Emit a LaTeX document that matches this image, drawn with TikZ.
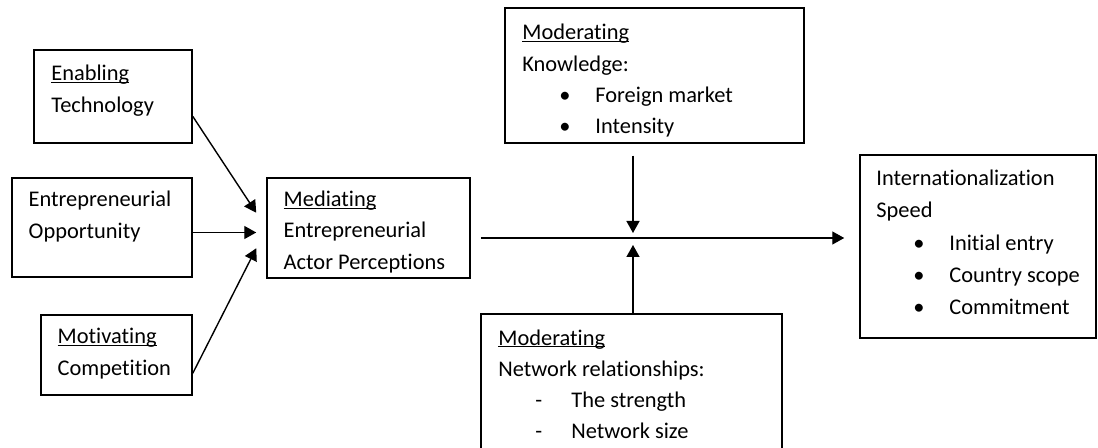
\documentclass[tikz,border=0pt]{standalone}
\usepackage{fontspec}
\setmainfont{Carlito}[Ligatures=NoCommon]
\usepackage{tikz}
\usetikzlibrary{arrows.meta,calc,fit}
\newcommand{\ulword}[1]{\setbox0\hbox{#1}\rlap{\rule[-1pt]{\wd0}{0.5pt}}#1}
\newcommand{\itm}[2]{\hspace*{18.5pt}\makebox[18pt][l]{#1}#2}

\begin{document}
\begin{tikzpicture}[
	x=0.5pt, y=-0.5pt,
	every node/.style={font={\fontsize{11.2}{16}\selectfont}},
	box/.style={draw, line width=0.75pt, inner sep=0pt},
	txt/.style={anchor=north west, align=left, inner sep=0pt},
	arrow/.style={-{Triangle[length=6pt,width=6.5pt]}, line width=0.7pt}
	]
	\useasboundingbox (0,0) rectangle (1098,448);
	
	\node[box, fit={(34,50) (192,143)}] (Enabling) {};
	\node[box, fit={(12,178) (192,277)}] (Opportunity) {};
	\node[box, fit={(41,315) (192,395)}] (Motivating) {};
	\node[box, fit={(267,178) (470,278)}] (Mediating) {};
	\node[box, fit={(505,8) (804,143)}] (Knowledge) {};
	\node[box, fit={(481,314) (782,470)}] (Network) {};
	\node[box, fit={(860,155) (1096,338)}] (Speed) {};
	
	\node[txt] (EnablingText) at (51,58.2) {\strut\ulword{Enabling}\\Technology};
	\node[txt] (OpportunityText) at (28.3,184.2) {\strut Entrepreneurial\\Opportunity};
	\node[txt] (MotivatingText) at (57.3,320.8) {\strut\ulword{Motivating}\\Competition};
	\node[txt, font={\fontsize{11.2}{15.6}\selectfont}] (MediatingText) at (283.3,184.5) {\strut\ulword{Mediating}\\Entrepreneurial\\Actor Perceptions};
	\node[txt, font={\fontsize{11.2}{15.7}\selectfont}] (KnowledgeText) at (522,17.3) {\strut\ulword{Moderating}\\Knowledge:\\
		\itm{\textbullet}{Foreign market}\\\itm{\textbullet}{Intensity}};
	\node[txt, font={\fontsize{11.2}{15.5}\selectfont}] (NetworkText) at (498,323.3) {\strut\ulword{Moderating}\\Network relationships:\\
		\itm{-}{The strength}\\\itm{-}{Network size}};
	\node[txt, font={\fontsize{11.2}{16.2}\selectfont}] (SpeedText) at (876,162.3) {\strut Internationalization\\Speed\\
		\itm{\textbullet}{Initial entry}\\\itm{\textbullet}{Country scope}\\\itm{\textbullet}{Commitment}};
	
	\coordinate (Join) at (633,238);
	
	\draw[arrow] ($(Enabling.north east)!0.71!(Enabling.south east)$) -- ($(Mediating.north west)!0.35!(Mediating.south west)+(-10,0)$);
	\draw[arrow] ($(Opportunity.east)+(0,5)$) -- ($(Opportunity.east -| Mediating.west)+(-10,5)$);
	\draw[arrow] ($(Motivating.north east)!0.725!(Motivating.south east)$) -- ($(Mediating.north west)!0.70!(Mediating.south west)+(-10,0)$);
	
	\draw[arrow] ($(Mediating.east |- Join)+(10,0)$) -- ($(Speed.west |- Join)+(-15,0)$);
	\draw[arrow] ($(Knowledge.south -| Join)+(0,12)$) -- ($(Join)+(0,-5)$);
	\draw[arrow] (Network.north -| Join) -- ($(Join)+(0,7)$);
	
\end{tikzpicture}
\end{document}
